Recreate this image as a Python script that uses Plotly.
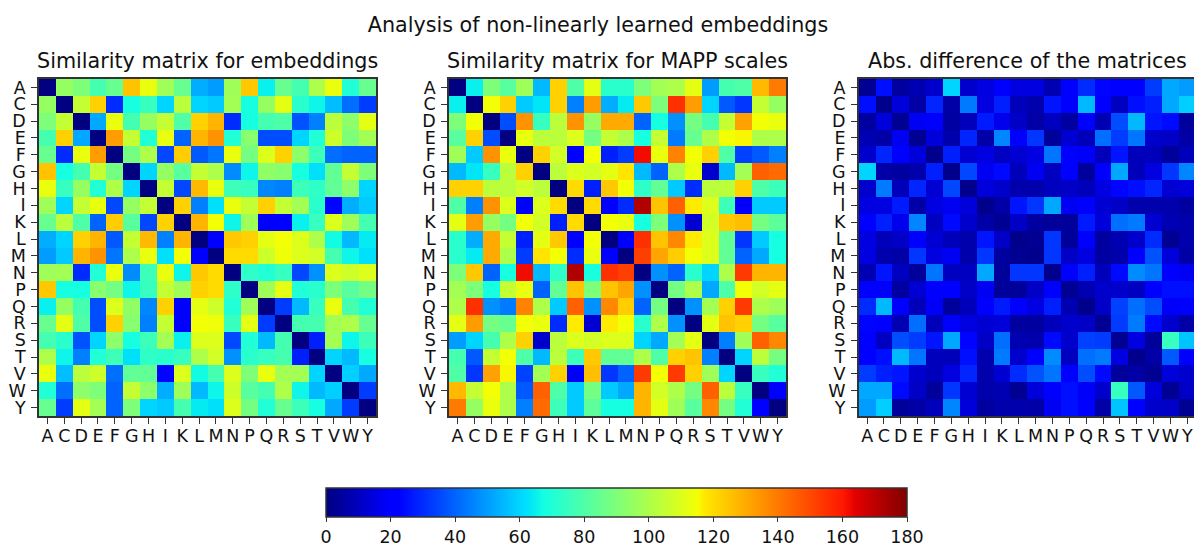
import plotly.graph_objects as go

W, H = 1194, 544
residues = list("ACDEFGHIKLMNPQRSTVWY")
colorbar_ticks = [0, 20, 40, 60, 80, 100, 120, 140, 160, 180]

embeddings = [
[0,95,90,78,85,125,113,97,85,53,50,97,124,65,85,78,100,113,70,85],
[95,0,105,122,30,68,75,60,103,60,58,98,68,95,112,72,66,56,42,33],
[90,105,0,52,113,78,95,105,80,122,128,30,68,78,80,37,45,103,93,112],
[78,122,52,0,133,105,70,113,40,128,135,70,92,36,36,60,70,107,90,98],
[85,30,113,133,0,88,100,35,123,38,43,113,88,110,122,93,76,42,40,40],
[125,68,78,105,88,0,60,95,82,105,100,47,66,94,92,68,62,84,105,90],
[113,75,95,70,100,60,0,105,35,127,113,76,75,46,45,76,73,84,93,60],
[97,60,105,113,35,95,105,0,122,45,62,113,105,122,105,98,72,23,53,58],
[85,103,80,40,123,82,35,122,0,128,115,66,97,20,20,65,75,110,97,78],
[53,60,122,128,38,105,127,45,128,0,21,124,122,112,115,110,100,67,55,64],
[50,58,128,135,43,100,113,62,115,21,0,120,120,107,114,110,108,78,66,62],
[97,98,30,70,113,47,76,113,66,124,120,0,73,70,75,35,48,110,107,110],
[124,68,68,92,88,66,75,105,97,122,120,73,0,97,112,70,72,90,82,88],
[65,95,78,36,110,94,46,122,20,112,107,70,97,0,33,55,75,113,78,70],
[85,112,80,36,122,92,45,105,20,115,114,75,112,33,0,78,78,98,100,85],
[78,72,37,60,93,68,76,98,65,110,110,35,70,55,78,0,28,98,66,76],
[100,66,45,70,76,62,73,72,75,100,108,48,72,75,78,28,0,60,55,68],
[113,56,103,107,42,84,84,23,110,67,78,110,90,113,98,98,60,0,59,52],
[70,42,93,90,40,105,93,53,97,55,66,107,82,78,100,66,55,59,0,33],
[85,33,112,98,40,90,60,58,78,64,62,110,88,70,85,76,68,52,33,0],
]

mapp_scales = [
[0,65,90,82,97,55,122,80,112,72,72,90,98,100,112,50,78,80,127,140],
[65,0,115,122,58,63,122,45,133,53,64,124,90,155,133,60,38,32,105,95],
[90,115,0,36,135,75,103,135,95,130,130,40,68,48,88,78,105,132,115,113],
[82,122,36,0,113,103,103,110,88,105,100,68,105,44,85,100,115,116,100,100],
[97,58,135,113,0,122,108,20,115,28,33,162,113,138,115,122,80,34,38,45],
[55,63,75,103,122,0,103,110,108,112,118,55,40,100,113,12,55,98,145,143],
[122,122,103,103,108,103,0,120,28,124,115,73,84,58,30,103,103,122,80,76],
[80,45,135,110,20,110,120,0,120,22,30,172,125,145,117,110,76,19,58,58],
[112,133,95,88,115,108,28,120,0,115,113,68,90,48,13,108,124,126,88,83],
[72,53,130,105,28,112,124,22,115,0,20,155,125,137,117,110,84,32,58,68],
[72,64,130,100,33,118,115,30,113,20,0,152,131,123,115,110,84,40,52,68],
[90,124,40,68,162,55,73,172,68,155,152,0,48,40,72,60,100,153,128,128],
[98,90,68,105,113,40,84,125,90,125,131,48,0,88,100,52,80,115,108,112],
[100,155,48,44,138,100,58,145,48,137,123,40,88,0,48,98,122,153,100,97],
[112,133,88,85,115,113,30,117,13,117,115,72,100,48,0,112,125,122,88,82],
[50,60,78,100,122,12,103,110,108,110,110,60,52,98,112,0,45,97,145,137],
[78,38,105,115,80,55,103,76,124,84,84,100,80,122,125,45,0,60,103,88],
[80,32,132,116,34,98,122,19,126,32,40,153,115,153,122,97,60,0,75,70],
[127,105,115,100,38,145,80,58,88,58,52,128,108,100,88,145,103,75,0,22],
[140,95,113,100,45,143,76,58,83,68,68,128,112,97,82,137,88,70,22,0],
]

abs_difference = [
[3,25,5,8,12,60,12,15,21,15,15,8,21,30,23,21,20,33,52,50],
[25,2,14,6,29,6,44,15,28,9,7,26,20,55,21,10,25,28,52,59],
[5,14,3,18,21,5,9,27,17,11,6,10,5,20,8,36,55,26,24,4],
[8,6,18,3,14,7,29,6,46,21,32,4,13,9,42,33,43,12,11,6],
[12,29,21,14,2,28,13,15,10,13,15,43,22,19,9,26,9,9,4,9],
[60,6,5,7,28,2,35,18,24,9,18,10,20,4,20,52,9,15,32,46],
[12,44,9,29,13,35,2,14,12,7,7,10,11,9,15,23,25,29,13,14],
[15,15,27,6,15,18,14,2,6,26,32,52,18,20,13,11,7,7,7,5],
[21,28,17,46,10,24,12,6,3,11,5,4,4,27,14,42,44,13,8,7],
[15,9,11,21,13,9,7,26,11,2,3,32,4,21,5,8,12,30,3,7],
[15,7,6,32,15,18,7,32,5,3,2,32,11,15,5,7,20,37,14,6],
[8,26,10,4,43,10,10,52,4,32,32,2,21,28,9,24,47,43,21,18],
[21,20,5,13,22,20,11,18,4,4,11,21,3,8,12,12,10,21,25,25],
[30,55,20,9,19,4,9,20,27,21,15,28,8,2,11,34,42,36,19,22],
[23,21,8,42,9,20,15,13,14,5,5,9,12,11,3,33,44,24,12,6],
[21,10,36,33,26,52,23,11,42,8,7,24,12,34,33,3,15,4,75,57],
[20,25,55,43,9,9,25,7,44,12,20,47,10,42,44,15,2,6,38,20],
[33,28,26,12,9,15,29,7,13,30,37,43,21,36,24,4,6,3,14,12],
[52,52,24,11,4,32,13,7,8,3,14,21,25,19,12,75,38,14,3,11],
[50,59,4,6,9,46,14,5,7,7,6,18,25,22,6,57,20,12,11,3],
]

# matplotlib "jet" anchor colours
jet = [
    [0.0, "rgb(0,0,128)"], [0.11, "rgb(0,0,255)"], [0.125, "rgb(0,0,255)"],
    [0.34, "rgb(0,220,255)"], [0.35, "rgb(0,229,247)"], [0.375, "rgb(20,255,226)"],
    [0.64, "rgb(244,255,3)"], [0.65, "rgb(255,235,0)"], [0.66, "rgb(255,225,0)"],
    [0.89, "rgb(255,23,0)"], [0.91, "rgb(228,0,0)"], [1.0, "rgb(128,0,0)"],
]

FONT = "DejaVu Sans"
TEXT = "#111111"
LINE = "#333333"
TICK_SIZE = 17.5
TITLE_SIZE = 20.7
titles = ["Similarity matrix for embeddings", "Similarity matrix for MAPP scales",
          "Abs. difference of the matrices"]
panels = [embeddings, mapp_scales, abs_difference]
lefts = [39.0, 449.0, 858.7]
widths = [337.0, 337.0, 335.3]
top, bottom = 79.0, 416.0
title_centers = [207.0, 617.5, 1027.5]

fig = go.Figure()
annotations = []
layout_axes = {}
for i, (z, left, wd) in enumerate(zip(panels, lefts, widths)):
    n = "" if i == 0 else str(i + 1)
    fig.add_trace(go.Heatmap(
        x=list(range(20)), y=list(range(20)), z=z, coloraxis="coloraxis",
        xaxis=f"x{n}", yaxis=f"y{n}", xgap=0, ygap=0,
    ))
    xend = -0.5 + wd / (337.0 / 20)
    layout_axes[f"xaxis{n}"] = dict(
        domain=[left / W, (left + wd) / W], anchor=f"y{n}", range=[-0.5, xend],
        tickmode="array", tickvals=list(range(20)), ticktext=residues, tickangle=0,
        ticks="outside", ticklen=6, tickwidth=1.2, tickcolor=LINE, ticklabelstandoff=-3,
        showline=True, mirror=True, linecolor=LINE, linewidth=1.5,
        showgrid=False, zeroline=False, tickfont=dict(family=FONT, size=TICK_SIZE, color=TEXT),
    )
    layout_axes[f"yaxis{n}"] = dict(
        domain=[1 - bottom / H, 1 - top / H], anchor=f"x{n}", range=[19.5, -0.5],
        tickmode="array", tickvals=list(range(20)), ticktext=residues,
        ticks="outside", ticklen=6, tickwidth=1.2, tickcolor=LINE, ticklabelstandoff=2,
        showline=True, mirror=(i != 2), linecolor=LINE, linewidth=1.5,
        showgrid=False, zeroline=False, tickfont=dict(family=FONT, size=TICK_SIZE, color=TEXT),
    )
    annotations.append(dict(
        text=titles[i], x=title_centers[i] / W, y=1 - 61 / H, xref="paper", yref="paper",
        xanchor="center", yanchor="middle", showarrow=False,
        font=dict(family=FONT, size=TITLE_SIZE, color=TEXT),
    ))

fig.update_layout(
    width=W, height=H, margin=dict(l=0, r=0, t=0, b=0, autoexpand=False),
    paper_bgcolor="white", plot_bgcolor="white", showlegend=False,
    title=dict(text="Analysis of non-linearly learned embeddings", x=598 / W, y=1 - 25 / H,
               xanchor="center", yanchor="middle", font=dict(family=FONT, size=TITLE_SIZE, color=TEXT)),
    annotations=annotations,
    coloraxis=dict(
        cmin=0, cmax=180, colorscale=jet,
        colorbar=dict(
            orientation="h", x=326 / W, xanchor="left", xref="container",
            y=1 - 487.5 / H, yanchor="top", yref="container",
            lenmode="pixels", len=581, thicknessmode="pixels", thickness=29,
            xpad=0, ypad=0, outlinewidth=1.5, outlinecolor=LINE,
            tickmode="array", tickvals=colorbar_ticks, ticks="outside", ticklen=5,
            tickwidth=1.2, tickcolor=LINE,
            tickfont=dict(family=FONT, size=TICK_SIZE, color=TEXT),
        ),
    ),
    **layout_axes,
)

fig.write_html("out.html", config={"displayModeBar": False},
               post_script="document.body.style.margin='0';document.body.style.overflow='hidden';")
